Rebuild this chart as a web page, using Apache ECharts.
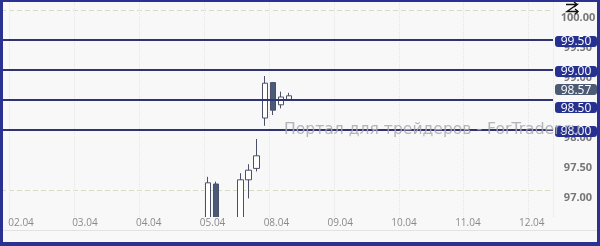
<!DOCTYPE html>
<html><head><meta charset="utf-8">
<script src="https://cdn.jsdelivr.net/npm/echarts@6/dist/echarts.min.js"></script>
<style>html,body{margin:0;padding:0;background:#f8f8f8;} #c{width:600px;height:246px;}</style>
</head><body><div id="c"></div>
<script>
// ---- data ----
const days = ['01.04','02.04','03.04','04.04','05.04','08.04','09.04','10.04','11.04','12.04'];
const hours = ['00:00','03:00','06:00','09:00','12:00','15:00','18:00','21:00'];
const dayLabels = ['02.04','03.04','04.04','05.04','08.04','09.04','10.04','11.04','12.04'];
const candleTimes = ['05.04 00:00','05.04 03:00','05.04 12:00','05.04 15:00','05.04 18:00','05.04 21:00','08.04 00:00','08.04 03:00','08.04 06:00'];
const opens  = [96.40, 97.10, 96.30, 97.17, 97.36, 98.20, 98.79, 98.42, 98.51];
const closes = [97.12, 96.45, 97.17, 97.33, 97.57, 98.78, 98.33, 98.55, 98.57];
const lows   = [96.35, 96.40, 96.20, 96.86, 97.31, 98.07, 98.25, 98.36, 98.49];
const highs  = [97.22, 97.14, 97.28, 97.43, 97.85, 98.90, 98.80, 98.64, 98.62];
const levels = [99.50, 99.00, 98.50, 98.00];
const lastPrice = 98.57;
const watermark = 'Портал для трейдеров - ForTrader.ru';

// ---- build ----
const allSlots = [];
days.forEach(d => hours.forEach(h => allSlots.push(d + ' ' + h)));
const categories = allSlots.slice(7, 7 + 68);
const candleData = categories.map(c => {
  const k = candleTimes.indexOf(c);
  return k < 0 ? '-' : [opens[k], closes[k], lows[k], highs[k]];
});
const dayIdx = dayLabels.map((d, i) => i);

const chart = echarts.init(document.getElementById('c'), null, {renderer: 'canvas'});
const navy = '#2f3372';
const option = {
  animation: false,
  backgroundColor: '#f8f8f8',
  grid: {left: 1, right: 47, top: -20, bottom: 26, outerBoundsMode: 'none'},
  xAxis: [{
    type: 'category',
    data: categories,
    boundaryGap: true,
    axisLine: {show: false},
    axisTick: {show: false},
    axisLabel: {show: false},
    splitLine: {
      show: true,
      interval: (i, v) => v.split(' ')[1] === '00:00',
      lineStyle: {color: '#e6e6e6', type: 'dotted', width: 1}
    }
  }, {
    type: 'value',
    position: 'bottom',
    min: -20 / 63.6, max: 530 / 63.6,
    z: 10,
    axisLine: {show: false},
    axisTick: {show: false},
    splitLine: {show: false},
    axisLabel: {
      customValues: dayIdx,
      formatter: v => dayLabels[Math.round(v)],
      color: '#8a8a8a', fontSize: 10, fontFamily: 'Open Sans', margin: -2
    }
  }],
  yAxis: {
    type: 'value',
    position: 'right',
    min: 96.5, max: 100.5, interval: 0.5,
    axisLine: {show: false},
    axisTick: {show: false},
    axisLabel: {
      margin: 25, align: 'center', verticalAlign: 'top', padding: [2, 0, 0, 0],
      color: '#777', fontWeight: 'bold', fontSize: 11, fontFamily: 'Open Sans',
      formatter: v => v.toFixed(2), showMinLabel: false, showMaxLabel: false
    },
    splitLine: {show: true, lineStyle: {color: ['rgba(0,0,0,0)', '#d8dac2'], type: [5, 3], width: 1}}
  },
  series: [{
    type: 'candlestick',
    xAxisIndex: 0,
    data: candleData,
    barWidth: 6,
    itemStyle: {color: '#ffffff', color0: '#4c5a7a', borderColor: '#4a5068', borderColor0: '#4a5068', borderWidth: 1},
    markLine: {
      silent: true, symbol: ['none', 'none'], animation: false,
      label: {show: false},
      lineStyle: {color: navy, width: 2, type: 'solid'},
      data: levels.map(v => ({yAxis: v}))
    }
  }]
};
chart.setOption(option);

// tags on the right (positions through the axis scale)
const tagX = 555, tagW = 42, tagH = 11;
const tagItems = levels.map(v => ({v, bg: '#26318f'}));
tagItems.push({v: lastPrice, bg: '#4d5a74'});
tagItems.forEach(t => { t.y = chart.convertToPixel({yAxisIndex: 0}, t.v); });
const lp = tagItems[tagItems.length - 1];
const near = tagItems.find(t => t !== lp && Math.abs(t.y - lp.y) < tagH + 1);
if (near) { const mid = (near.y + lp.y) / 2; lp.y = mid - 8; near.y = mid + 10; }
tagItems.forEach(t => { if (t !== lp && t !== near) t.y += 1; });

const graphics = [];
// cover below plot bottom (clip candles like the original)
graphics.push({type: 'rect', z: 5, shape: {x: 3, y: 217, width: 594, height: 25}, style: {fill: '#f8f8f8'}});
graphics.push({type: 'line', z: 6, shape: {x1: 3, y1: 230.5, x2: 597, y2: 230.5}, style: {stroke: '#e2e2e2', lineWidth: 1}});
tagItems.forEach(t => {
  graphics.push({type: 'rect', z: 10, shape: {x: tagX, y: Math.round(t.y - tagH / 2), width: tagW, height: tagH, r: 3}, style: {fill: t.bg}});
  graphics.push({type: 'text', z: 11, x: tagX + tagW / 2, y: Math.round(t.y) + 0.5,
    style: {text: t.v.toFixed(2), fill: '#ffffff', font: '12px "Open Sans"', align: 'center', verticalAlign: 'middle'}});
});
graphics.push({type: 'text', z: 15, left: 284, top: 122,
  style: {text: watermark, fill: 'rgba(168,168,178,0.85)', font: '15.6px "DejaVu Sans"'}});
// icon top right
const ic = {stroke: '#111', lineWidth: 1.4, fill: null};
graphics.push({type: 'polyline', z: 20, shape: {points: [[566,4.5],[577,4.5],[567,11.5],[578,11.5]]}, style: ic});
graphics.push({type: 'polyline', z: 20, shape: {points: [[574,2],[577,4.5],[574,7]]}, style: ic});
graphics.push({type: 'polyline', z: 20, shape: {points: [[575,9],[578,11.5],[575,14]]}, style: ic});
// frame
const fc = '#2a3190';
[[0,0,600,2],[0,0,3,246],[597,0,3,246],[0,242,600,4]].forEach(r => {
  graphics.push({type: 'rect', z: 30, shape: {x: r[0], y: r[1], width: r[2], height: r[3]}, style: {fill: fc}});
});
chart.setOption({graphic: graphics});
</script></body></html>
